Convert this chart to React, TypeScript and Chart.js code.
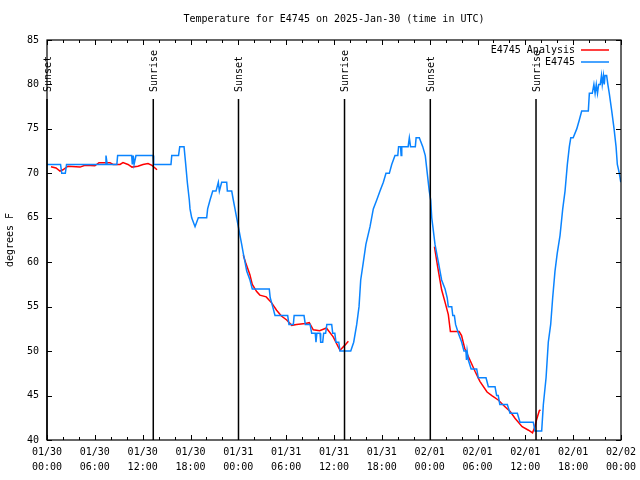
import React, { useEffect, useRef } from "react";
import { Chart, registerables } from "chart.js";

Chart.register(...registerables);

const FONT_FAMILY = '"DejaVu Sans Mono", "Liberation Mono", monospace';
const FONT = `10px ${FONT_FAMILY}`;

const chartTitle = "Temperature for E4745 on 2025-Jan-30 (time in UTC)";
const yAxisTitle = "degrees F";
const obsLabel = "E4745";
const anaLabel = "E4745 Analysis";

// hours since 2025-01-30 00:00 UTC
const obsHours = [
  0.0, 1.7, 1.85, 2.3, 2.45, 7.3, 7.4, 7.55, 8.76, 8.86, 10.62, 10.7, 10.82, 10.92, 11.16, 13.3, 13.38,
  15.55, 15.65, 16.5, 16.65, 17.19, 17.4, 17.6, 17.85, 17.94, 18.15, 18.57, 18.98, 20.03, 20.15, 20.45,
  20.79, 21.2, 21.49, 21.62, 21.91, 22.54, 22.62, 23.17, 23.37, 23.58, 23.79, 24.0, 24.21, 24.42, 24.62,
  24.84, 25.05, 25.46, 25.75, 27.88, 28.0, 28.31, 28.6, 30.19, 30.35, 30.9, 31.0, 32.24, 32.4, 33.0, 33.2,
  33.65, 33.74, 33.85, 34.25, 34.33, 34.58, 34.7, 34.95, 35.1, 35.71, 35.84, 36.1, 36.25, 36.6, 36.75, 38.1,
  38.47, 38.85, 39.14, 39.35, 39.68, 40.0, 40.52, 40.93, 41.36, 41.77, 42.19, 42.52, 42.94, 43.24, 43.65,
  44.0, 44.1, 44.35, 44.42, 44.5, 45.3, 45.45, 45.6, 46.2, 46.3, 46.7, 47.13, 47.45, 47.7, 47.95, 48.13,
  48.26, 48.4, 48.67, 49.09, 49.5, 49.93, 50.2, 50.34, 50.77, 50.9, 51.1, 51.25, 51.6, 52.02, 52.3, 52.55,
  52.62, 52.7, 52.85, 53.2, 53.9, 54.1, 55.07, 55.36, 56.2, 56.4, 56.6, 56.8, 57.74, 58.08, 59.0, 59.33,
  61.0, 61.2, 62.05, 62.26, 62.6, 62.88, 63.18, 63.43, 63.72, 64.0, 64.35, 64.69, 64.98, 65.27, 65.52,
  65.7, 66.0, 66.45, 66.77, 67.07, 67.9, 68.03, 68.4, 68.6, 68.75, 68.9, 69.05, 69.2, 69.4, 69.55, 69.65,
  69.8, 69.9, 70.0, 70.2, 70.35, 70.53, 70.84, 71.13, 71.38, 71.54, 71.79, 71.97,
];
const obsTemps = [
  71, 71, 70, 70, 71, 71, 72, 71, 71, 72, 72, 71, 72, 71, 72, 72, 71,
  71, 72, 72, 73, 73, 71, 69, 67, 66, 65, 64, 65, 65, 66, 67,
  68, 68, 69, 68, 69, 69, 68, 68, 67, 66, 65, 64, 63, 62, 61,
  60, 59, 58, 57, 57, 56, 55, 54, 54, 53, 53, 54, 54, 53, 53, 52,
  52, 51, 52, 52, 51, 51, 52, 52, 53, 53, 52, 52, 51, 51, 50, 50,
  51, 53, 55, 58, 60, 62, 64, 66, 67, 68, 69, 70, 70, 71, 72,
  72, 73, 73, 72, 73, 73, 74, 73, 73, 74, 74, 73, 72, 70, 68, 67,
  65, 64, 62, 60, 58, 57, 56, 55, 55, 54, 54, 53, 52, 51, 50, 50,
  49, 50, 49, 48, 48, 47, 47, 46, 46, 45, 45, 44, 44, 43, 43, 42,
  42, 41, 41, 44, 47, 51, 53, 56, 59, 61, 63, 66, 68, 71, 73,
  74, 74, 75, 76, 77, 77, 79, 79, 80, 79, 80, 79, 80, 80, 81, 80,
  81, 80, 81, 81, 80, 79, 77, 75, 73, 71, 70, 69,
];

// null temperature = gap in the analysis series
const anaHours = [
  0.5, 1.13, 1.63, 2.0, 2.63, 4.14, 4.77, 6.0, 6.52, 7.9, 8.28, 9.16, 9.53, 10.16, 10.66, 11.4, 12.04,
  12.67, 13.17, 13.8, 19.0,
  24.62, 24.9, 25.45, 25.75, 26.3, 26.7, 27.5, 28.2, 28.8, 29.4, 30.07, 30.7, 31.3, 32.4, 32.9, 33.4,
  34.2, 35.05, 35.9, 36.75, 37.4, 37.8, 43.0,
  48.6, 49.0, 49.5, 49.9, 50.34, 50.6, 51.7, 52.0, 52.4, 53.05, 53.7, 54.3, 55.2, 55.8, 56.6, 57.45,
  58.1, 58.7, 59.6, 60.4, 60.9, 61.2, 61.4, 61.75, 61.9,
];
const anaTemps = [
  70.75, 70.6, 70.25, 70.4, 70.8, 70.7, 70.9, 70.85, 71.2, 71.2, 71.0, 71.0, 71.2, 71.0, 70.7, 70.8, 71.0,
  71.1, 70.9, 70.4, null,
  60.8, 60.0, 58.6, 57.5, 56.7, 56.3, 56.1, 55.4, 54.6, 53.95, 53.5, 52.9, 53.0, 53.1, 53.2, 52.4,
  52.3, 52.6, 51.6, 50.1, 50.7, 51.1, null,
  61.75, 59.5, 56.9, 55.6, 54.1, 52.2, 52.2, 51.75, 50.3, 49.0, 47.7, 46.6, 45.4, 45.0, 44.5, 43.75,
  43.2, 42.45, 41.5, 41.1, 40.8, 41.5, 42.25, 43.3, 43.4,
];

const sunEventHours = [0, 13.33, 24.02, 37.32, 48.08, 61.34];
const sunEventLabels = ["Sunset", "Sunrise", "Sunset", "Sunrise", "Sunset", "Sunrise"];

const xTickLabels = [
  ["01/30", "00:00"], ["01/30", "06:00"], ["01/30", "12:00"], ["01/30", "18:00"],
  ["01/31", "00:00"], ["01/31", "06:00"], ["01/31", "12:00"], ["01/31", "18:00"],
  ["02/01", "00:00"], ["02/01", "06:00"], ["02/01", "12:00"], ["02/01", "18:00"],
  ["02/02", "00:00"],
];

const OBS_COLOR = "#0a84ff";
const ANA_COLOR = "#ff0000";

const decorPlugin = {
  id: "gnuplotDecor",
  afterDatasetsDraw(chart: any) {
    const { ctx, chartArea, scales } = chart;
    const { left, right, top, bottom } = chartArea;
    const xs = scales.x;
    const ys = scales.y;
    ctx.save();
    ctx.fillStyle = "#000";
    ctx.strokeStyle = "#000";
    ctx.font = FONT;

    // sunrise / sunset markers
    ctx.lineWidth = 1.5;
    sunEventHours.forEach((h, i) => {
      const px = xs.getPixelForValue(h);
      ctx.beginPath();
      ctx.moveTo(px, top + 59);
      ctx.lineTo(px, bottom);
      ctx.stroke();
      ctx.save();
      ctx.translate(px + 1, top + 52);
      ctx.rotate(-Math.PI / 2);
      ctx.textAlign = "left";
      ctx.textBaseline = "middle";
      ctx.fillText(sunEventLabels[i], 0, 0);
      ctx.restore();
    });

    // frame
    ctx.lineWidth = 1.2;
    ctx.strokeRect(left, top, right - left, bottom - top);

    // ticks (inward, mirrored)
    ctx.lineWidth = 1;
    for (let h = 0; h <= 72; h += 2) {
      const px = Math.round(xs.getPixelForValue(h)) + 0.5;
      const len = h % 6 === 0 ? 5 : 3;
      ctx.beginPath();
      ctx.moveTo(px, bottom);
      ctx.lineTo(px, bottom - len);
      ctx.moveTo(px, top);
      ctx.lineTo(px, top + len);
      ctx.stroke();
    }
    for (let v = 40; v <= 85; v += 5) {
      const py = Math.round(ys.getPixelForValue(v)) + 0.5;
      ctx.beginPath();
      ctx.moveTo(left, py);
      ctx.lineTo(left + 5, py);
      ctx.moveTo(right, py);
      ctx.lineTo(right - 5, py);
      ctx.stroke();
    }

    // title
    ctx.textAlign = "center";
    ctx.textBaseline = "middle";
    ctx.fillText(chartTitle, (left + right) / 2, 19);

    // y-axis title
    ctx.save();
    ctx.translate(10, (top + bottom) / 2);
    ctx.rotate(-Math.PI / 2);
    ctx.textAlign = "center";
    ctx.textBaseline = "middle";
    ctx.fillText(yAxisTitle, 0, 0);
    ctx.restore();

    // legend
    const legendItems = [
      { label: anaLabel, color: ANA_COLOR, y: 50 },
      { label: obsLabel, color: OBS_COLOR, y: 62 },
    ];
    legendItems.forEach((it) => {
      ctx.fillStyle = "#000";
      ctx.textAlign = "right";
      ctx.textBaseline = "middle";
      ctx.fillText(it.label, 575, it.y);
      ctx.strokeStyle = it.color;
      ctx.lineWidth = 1.5;
      ctx.beginPath();
      ctx.moveTo(581, it.y);
      ctx.lineTo(609, it.y);
      ctx.stroke();
    });

    ctx.restore();
  },
};

export default function App() {
  const canvasRef = useRef<HTMLCanvasElement | null>(null);

  useEffect(() => {
    if (!canvasRef.current) return;
    const obsData = obsHours.map((h, i) => ({ x: h, y: obsTemps[i] }));
    const anaData = anaHours.map((h, i) => ({ x: h, y: anaTemps[i] }));
    const chart = new Chart(canvasRef.current, {
      type: "line",
      data: {
        datasets: [
          {
            label: anaLabel,
            data: anaData as any,
            borderColor: ANA_COLOR,
            borderWidth: 1.5,
            pointRadius: 0,
            tension: 0,
            spanGaps: false,
            order: 2,
          },
          {
            label: obsLabel,
            data: obsData as any,
            borderColor: OBS_COLOR,
            borderWidth: 1.5,
            pointRadius: 0,
            tension: 0,
            order: 1,
          },
        ],
      },
      options: {
        responsive: false,
        animation: false,
        layout: { padding: { top: 40, right: 19, bottom: 0, left: 0 } },
        plugins: {
          legend: { display: false },
          title: { display: false },
          tooltip: { enabled: false },
        },
        scales: {
          x: {
            type: "linear",
            min: 0,
            max: 72,
            grid: { display: false, drawTicks: false },
            border: { display: false },
            ticks: {
              stepSize: 6,
              autoSkip: false,
              maxRotation: 0,
              minRotation: 0,
              padding: 4.5,
              color: "#000",
              font: { family: FONT_FAMILY, size: 10, lineHeight: 1.5 },
              callback: (v: any) => xTickLabels[Math.round(Number(v) / 6)] ?? "",
            },
            afterFit: (s: any) => {
              s.height = 40;
              s.paddingLeft = 0;
              s.paddingRight = 0;
            },
          },
          y: {
            min: 40,
            max: 85,
            grid: { display: false, drawTicks: false },
            border: { display: false },
            ticks: {
              stepSize: 5,
              padding: 8,
              color: "#000",
              font: { family: FONT_FAMILY, size: 10 },
            },
            afterFit: (s: any) => {
              s.width = 47;
            },
          },
        },
      },
      plugins: [decorPlugin],
    });
    return () => chart.destroy();
  }, []);

  return (
    <div style={{ position: "absolute", left: 0, top: 0, width: 640, height: 480, background: "#fff" }}>
      <canvas ref={canvasRef} width={640} height={480} style={{ display: "block" }} />
    </div>
  );
}
